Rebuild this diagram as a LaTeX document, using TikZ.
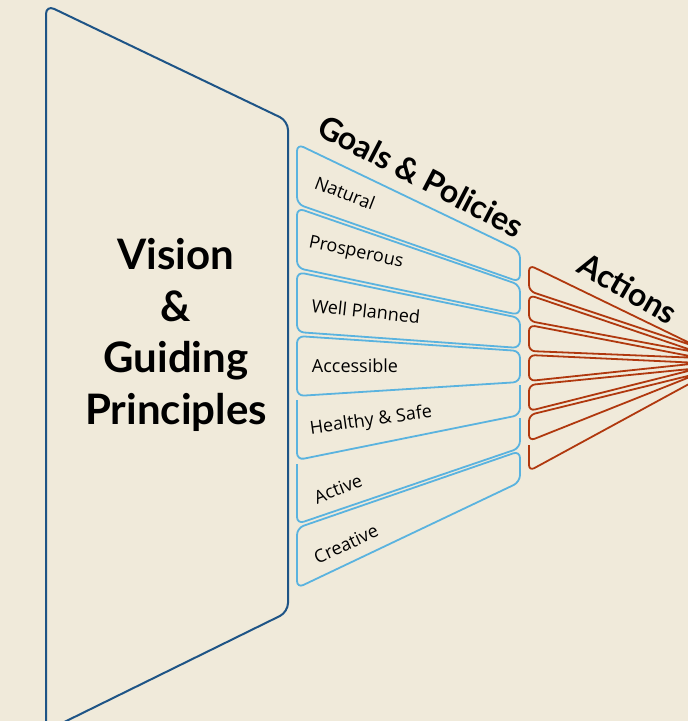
\documentclass[tikz,border=0pt]{standalone}
\usepackage{fontspec}
\usepackage{tikz}
\usetikzlibrary{backgrounds}
\setmainfont{Open Sans}
\newfontfamily\headfont{Lato}
\definecolor{Paper}{HTML}{F0EADA}
\definecolor{VisionBlue}{HTML}{1E5486}
\definecolor{GoalBlue}{HTML}{5AB3DF}
\definecolor{ActionRed}{HTML}{B0380E}
\tikzset{
  visionS/.style={draw=VisionBlue, line width=2pt, rounded corners=9pt},
  goalS/.style={draw=GoalBlue, line width=1.8pt, rounded corners=7pt},
  actionS/.style={draw=ActionRed, line width=1.8pt, rounded corners=6pt},
  headT/.style={font=\headfont\bfseries\fontsize{42}{51.5}\selectfont,
                align=center, inner sep=0pt},
  titleT/.style={font=\headfont\bfseries\fontsize{32}{36}\selectfont,
                 inner sep=0pt},
  goalT/.style={font=\fontsize{18}{21}\selectfont, inner sep=0pt},
}

\begin{document}
\begin{tikzpicture}[x=1pt, y=-1pt]
    %% page and paper
    \useasboundingbox (0,0) rectangle (688,721);
    \begin{scope}[on background layer]
      \fill[Paper] (0,0) rectangle (688,721);
    \end{scope}
    \clip (0,0) rectangle (688,721);

    %% vision block
    \coordinate (vTL) at (46,5);
    \coordinate (vTR) at (288,121);
    \coordinate (vBR) at (288,612);
    \coordinate (vBL) at (46,731);
    \draw[visionS] (vTL) -- (vTR) -- (vBR) -- (vBL) -- cycle;

    %% goals & policies
    \draw[goalS] (297,144) -- (520,251) -- (520,282) -- (297,204) -- cycle;
    \draw[goalS] (297,208) -- (520,285) -- (520,315) -- (297,268) -- cycle;
    \draw[goalS] (297,272) -- (520,318) -- (520,348) -- (297,332) -- cycle;
    \draw[goalS] (297,336) -- (520,351) -- (520,382) -- (297,396) -- cycle;
    \draw[goalS] (297,400) -- (297,460) -- (520,415) -- (520,385);
    \draw[goalS] (297,464) -- (297,524) -- (520,448) -- (520,418);
    \draw[goalS] (297,528) -- (520,451) -- (520,482) -- (297,588) -- cycle;

    %% actions
    \draw[actionS] (529,265) -- (700,348) -- (529,291) -- cycle;
    \draw[actionS] (529,295) -- (700,353) -- (529,321) -- cycle;
    \draw[actionS] (529,325) -- (700,358) -- (529,351) -- cycle;
    \draw[actionS] (529,355) -- (700,363) -- (529,381) -- cycle;
    \draw[actionS] (529,385) -- (700,368) -- (529,411) -- cycle;
    \draw[actionS] (529,415) -- (700,373) -- (529,441) -- cycle;
    \draw[actionS] (529,445) -- (529,471) -- (700,378);

    %% headings
    \node[headT] (vision) at (176,335) {Vision\\ \&\\ Guiding\\ Principles};
    \node[titleT, rotate=-27.5] (goals) at (421,176) {Goals \& Policies};
    \node[titleT, rotate=-30] (actions) at (628,288) {Actions};

    %% goal labels
    \node[goalT, rotate=-21] (natural) at (345,193) {Natural};
    \node[goalT, rotate=-12] (prosperous) at (356,253) {Prosperous};
    \node[goalT, rotate=-6] (planned) at (366,311) {Well Planned};
    \node[goalT] (accessible) at (355,366) {Accessible};
    \node[goalT, rotate=8] (healthy) at (371,421) {Healthy \& Safe};
    \node[goalT, rotate=21] (active) at (338,489) {Active};
    \node[goalT, rotate=25] (creative) at (346,544) {Creative};
\end{tikzpicture}
\end{document}
